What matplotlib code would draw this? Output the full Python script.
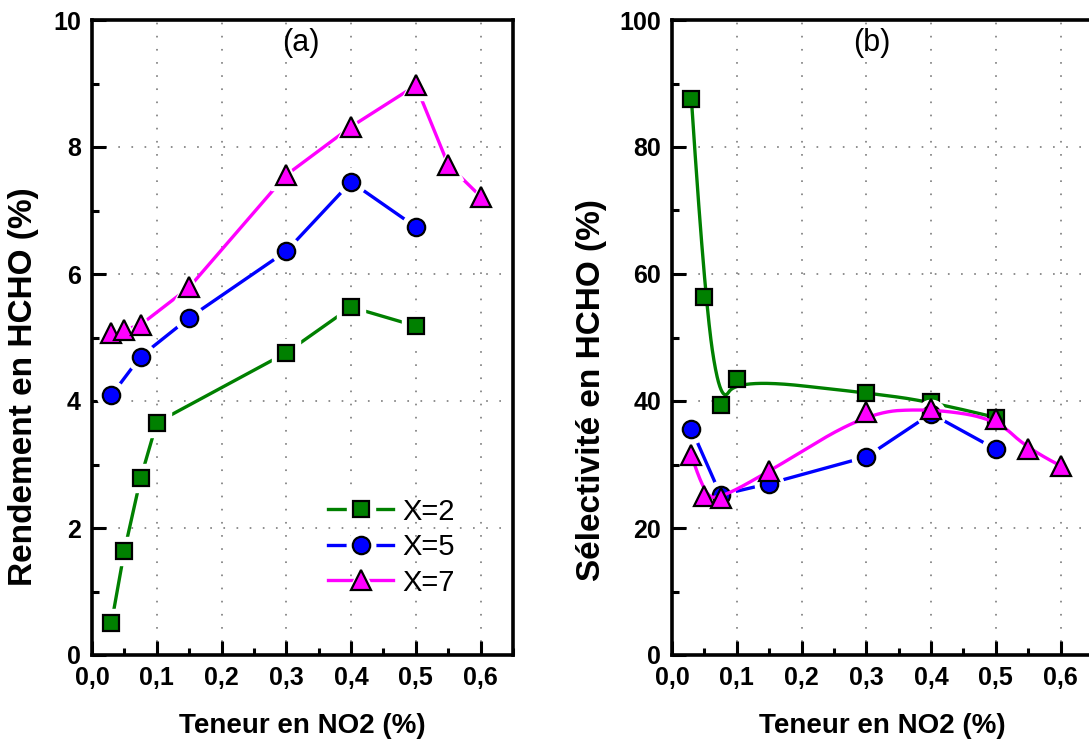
import numpy as np
import matplotlib
matplotlib.use("Agg")
import matplotlib.pyplot as plt
from matplotlib.legend_handler import HandlerTuple

plt.rcParams['font.family'] = ['Liberation Sans', 'DejaVu Sans']

# Teneur en NO2 (%) pour chaque série
x_X2 = [0.03, 0.05, 0.075, 0.1, 0.3, 0.4, 0.5]
x_X5 = [0.03, 0.075, 0.15, 0.3, 0.4, 0.5]
x_X7 = [0.03, 0.05, 0.075, 0.15, 0.3, 0.4, 0.5, 0.55, 0.6]

# (a) Rendement en HCHO (%)
rend_X2 = [0.5, 1.64, 2.78, 3.66, 4.76, 5.48, 5.18]
rend_X5 = [4.09, 4.70, 5.31, 6.36, 7.45, 6.74]
rend_X7 = [5.07, 5.12, 5.20, 5.79, 7.56, 8.32, 8.97, 7.72, 7.22]

# (b) Sélectivité en HCHO (%)
sel_X2 = [87.5, 56.4, 39.3, 43.5, 41.3, 39.9, 37.4]
sel_X5 = [35.6, 25.2, 27.0, 31.2, 38.0, 32.4]
sel_X7 = [31.5, 25.0, 24.7, 28.9, 38.2, 38.8, 37.2, 32.4, 29.8]

labels = ['X=2', 'X=5', 'X=7']
colors = ['#008000', '#0000ff', '#ff00ff']
markers = ['s', 'o', '^']
msizes = [11.5, 12.5, 14]


def bspline2(x, y, n=300):
    # B-spline quadratique (courbe de lissage type Origin)
    P = np.column_stack([x, y])
    k = 2
    m = len(P)
    knots = np.concatenate([[0] * k, np.arange(m - k + 1), [m - k] * k]).astype(float)
    u = np.linspace(0, m - k, n)
    u[-1] -= 1e-9
    out = []
    for uu in u:
        i = np.searchsorted(knots, uu, side='right') - 1
        d = [P[j + i - k].copy() for j in range(k + 1)]
        for r in range(1, k + 1):
            for j in range(k, r - 1, -1):
                a = (uu - knots[j + i - k]) / (knots[j + 1 + i - r] - knots[j + i - k])
                d[j] = (1 - a) * d[j - 1] + a * d[j]
        out.append(d[k])
    out = np.array(out)
    return out[:, 0], out[:, 1]


def style_axes(ax, ymax, ystep):
    ax.set_xlim(0, 0.65)
    ax.set_ylim(0, ymax)
    ax.set_xticks(np.arange(0, 0.61, 0.1))
    ax.set_xticks(np.arange(0.05, 0.651, 0.1), minor=True)
    ax.set_yticks(np.arange(0, ymax + 0.1, ystep))
    ax.set_yticks(np.arange(ystep / 2, ymax, ystep), minor=True)
    ax.set_xticklabels([f"{v:.1f}".replace('.', ',') for v in np.arange(0, 0.61, 0.1)])
    ax.tick_params(which='both', direction='in', top=False, right=False, width=2.2)
    ax.tick_params(which='major', length=10, labelsize=18, pad=8)
    ax.tick_params(which='minor', length=5)
    for lab in ax.get_xticklabels() + ax.get_yticklabels():
        lab.set_fontweight('bold')
    for s in ax.spines.values():
        s.set_linewidth(2.6)
    ax.grid(True, which='major', color='#707070', lw=1.1, linestyle=(0, (1.1, 7.5)))


fig = plt.figure(figsize=(10.89, 7.4), dpi=100)
ax1 = fig.add_axes([92 / 1089, 85 / 740, 421 / 1089, 635 / 740])
ax2 = fig.add_axes([672 / 1089, 85 / 740, 421 / 1089, 635 / 740])

# ---- (a) lignes brisées avec espace autour des symboles
handles = []
for i, (xs, ys) in enumerate([(x_X2, rend_X2), (x_X5, rend_X5), (x_X7, rend_X7)]):
    z = 3 + i * 3
    l, = ax1.plot(xs, ys, color=colors[i], lw=2.4, zorder=z)
    h, = ax1.plot(xs, ys, ls='none', marker=markers[i], ms=msizes[i] + 8,
                  mfc='white', mec='white', zorder=z + 1)
    m, = ax1.plot(xs, ys, ls='none', marker=markers[i], ms=msizes[i],
                  mfc=colors[i], mec='black', mew=1.6, zorder=z + 2)
    handles.append((l, h, m))

style_axes(ax1, 10, 2)
ax1.set_xlabel('Teneur en NO2 (%)', fontsize=20, fontweight='bold')
ax1.set_ylabel('Rendement en HCHO (%)', fontsize=24, fontweight='bold')
ax1.xaxis.set_label_coords(0.5, -0.092)
ax1.yaxis.set_label_coords(-0.125, 0.422)
ax1.text(0.497, 0.963, '(a)', transform=ax1.transAxes, fontsize=22,
         ha='center', va='center')
ax1.legend(handles, labels, handler_map={tuple: HandlerTuple(ndivide=1, pad=0)},
           loc='upper left', bbox_to_anchor=(0.56, 0.248), frameon=False,
           fontsize=21, handlelength=2.25, handletextpad=0.32,
           labelspacing=0.26, borderpad=0, borderaxespad=0)

# ---- (b) courbes B-spline pour X=2 et X=7, lignes pour X=5
bx, by = bspline2(x_X2, sel_X2)
ax2.plot(bx, by, color=colors[0], lw=2.4, zorder=3)
ax2.plot(x_X2, sel_X2, ls='none', marker='s', ms=msizes[0],
         mfc=colors[0], mec='black', mew=1.6, zorder=4)

ax2.plot(x_X5, sel_X5, color=colors[1], lw=2.4, zorder=5)
ax2.plot(x_X5, sel_X5, ls='none', marker='o', ms=msizes[1] + 8,
         mfc='white', mec='white', zorder=6)
ax2.plot(x_X5, sel_X5, ls='none', marker='o', ms=msizes[1],
         mfc=colors[1], mec='black', mew=1.6, zorder=7)

bx, by = bspline2(x_X7, sel_X7)
ax2.plot(bx, by, color=colors[2], lw=2.4, zorder=8)
ax2.plot(x_X7, sel_X7, ls='none', marker='^', ms=msizes[2],
         mfc=colors[2], mec='black', mew=1.6, zorder=9)

style_axes(ax2, 100, 20)
ax2.set_xlabel('Teneur en NO2 (%)', fontsize=20, fontweight='bold')
ax2.set_ylabel('Sélectivité en HCHO (%)', fontsize=24, fontweight='bold')
ax2.xaxis.set_label_coords(0.5, -0.092)
ax2.yaxis.set_label_coords(-0.155, 0.417)
ax2.text(0.475, 0.963, '(b)', transform=ax2.transAxes, fontsize=22,
         ha='center', va='center')

fig.savefig('out.png', dpi=100)
